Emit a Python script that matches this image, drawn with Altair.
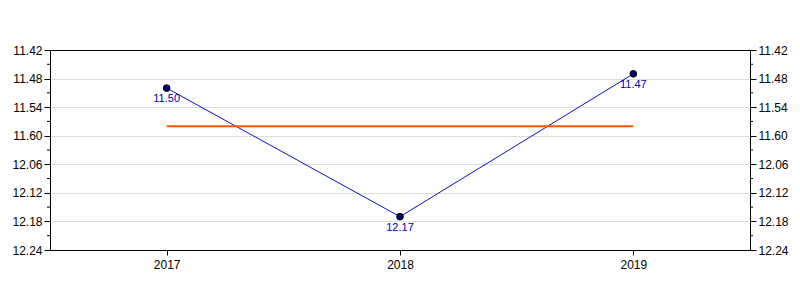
import altair as alt
import pandas as pd

years = [2017, 2018, 2019]
seconds = [710, 737, 707]
labels = ["11.50", "12.17", "11.47"]
y_tick_values = [702, 708, 714, 720, 726, 732, 738, 744]
y_tick_labels = ["11.42", "11.48", "11.54", "11.60", "12.06", "12.12", "12.18", "12.24"]
y_minor_ticks = [705, 711, 717, 723, 729, 735, 741]
x_ticks = [2017, 2018, 2019]

df = pd.DataFrame({"year": years, "sec": seconds, "label": labels})
minor = pd.DataFrame({"sec": y_minor_ticks})

label_expr = (
    "[" + ",".join(f"'{l}'" for l in y_tick_labels) + "][indexof(["
    + ",".join(str(v) for v in y_tick_values) + "], datum.value)]"
)

FONT = "Liberation Sans"
xs = alt.Scale(domain=[2016.5, 2019.5], nice=False, zero=False)
ys = alt.Scale(domain=[702, 744], reverse=True, nice=False, zero=False)

xaxis = alt.Axis(
    values=x_ticks, format="d", title=None, grid=False, tickSize=5,
    labelPadding=4, domainColor="black", tickColor="black",
    labelColor="black", labelFont=FONT, labelFontSize=12)
xenc = alt.X("year:Q", scale=xs, axis=xaxis)

def yaxis(orient, grid):
    return alt.Axis(values=y_tick_values, labelExpr=label_expr, title=None,
                    grid=grid, gridColor="#dddddd", tickSize=6, orient=orient,
                    domainColor="black", tickColor="black", labelColor="black",
                    labelFont=FONT, labelFontSize=12, labelPadding=2)

base = alt.Chart(df)

line = base.mark_line(color="#1010c0", strokeWidth=1).encode(
    x=xenc, y=alt.Y("sec:Q", scale=ys, axis=yaxis("left", True)))

mean_rule = base.mark_rule(color="#ff5500", strokeWidth=2).encode(
    x=alt.X("min(year):Q", scale=xs, axis=xaxis),
    x2="max(year):Q",
    y=alt.Y("mean(sec):Q", scale=ys, axis=None))

points = base.mark_point(filled=True, size=45, color="#000070",
                         stroke="black", strokeWidth=1, opacity=1).encode(
    x=xenc, y=alt.Y("sec:Q", scale=ys, axis=None))

text = base.mark_text(baseline="top", dy=5, fontSize=11, font=FONT,
                      color="#0000b0").encode(
    x=xenc, y=alt.Y("sec:Q", scale=ys, axis=None), text="label:N")

minor_left = alt.Chart(minor).mark_rule(color="black").encode(
    y=alt.Y("sec:Q", scale=ys, axis=None), x=alt.value(-3), x2=alt.value(0))
minor_right = alt.Chart(minor).mark_rule(color="black").encode(
    y=alt.Y("sec:Q", scale=ys, axis=None), x=alt.value(700), x2=alt.value(703))
top_border = alt.Chart(minor).mark_rule(color="black", strokeWidth=1).encode(
    y=alt.value(0.5), x=alt.value(0), x2=alt.value(700))

right = base.mark_line(opacity=0).encode(
    x=xenc, y=alt.Y("sec:Q", scale=ys, axis=yaxis("right", False)))

chart = alt.layer(line, mean_rule, points, text, minor_left, minor_right,
                  top_border, right).resolve_axis(
    y="independent").properties(
    width=700, height=200,
    autosize=alt.AutoSizeParams(type="none"),
    padding={"left": 50, "top": 50, "right": 50, "bottom": 50},
    background="white",
)

chart.save("out.html", embed_options={"renderer": "svg", "actions": False})
